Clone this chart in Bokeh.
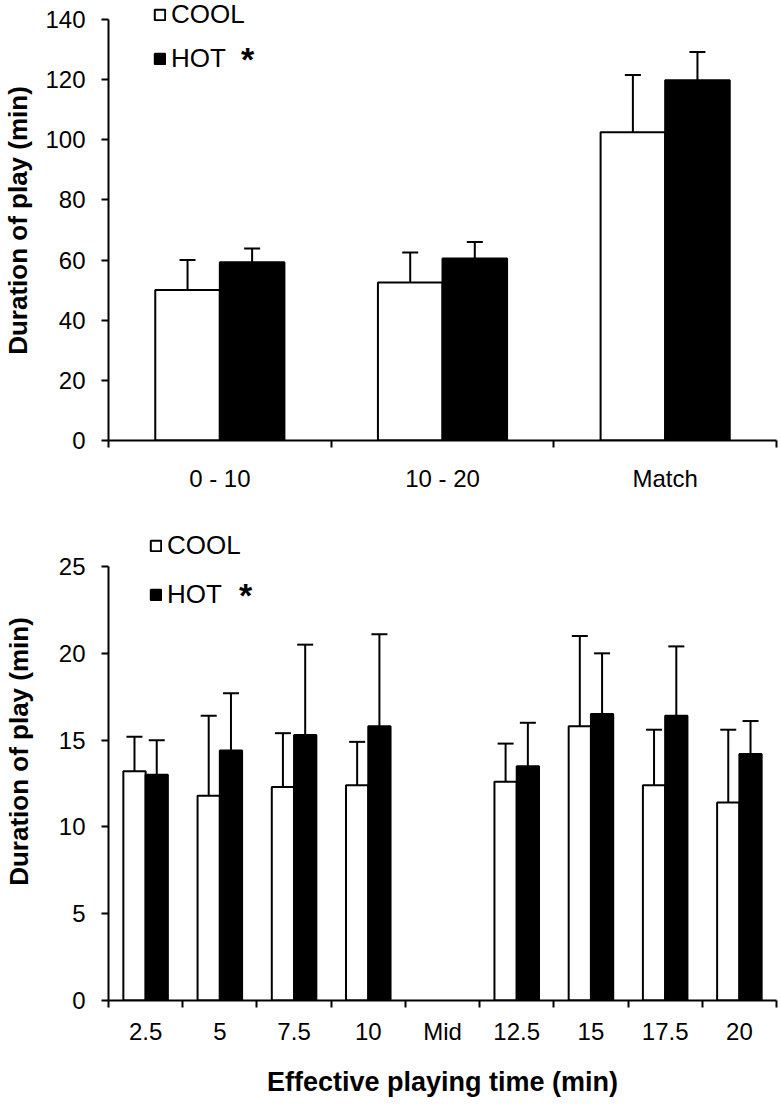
import numpy as np
from bokeh.plotting import figure
from bokeh.models import (Range1d, FixedTicker, Whisker, TeeHead, Legend, LegendItem,
                          Label, ColumnDataSource)
from bokeh.layouts import column
from bokeh.embed import file_html
from bokeh.resources import INLINE

# ---------------- data ----------------
top_categories = ["0 - 10", "10 - 20", "Match"]
top_cool = [50.0, 52.5, 102.5]
top_cool_sd = [10.0, 10.0, 19.0]
top_hot = [59.3, 60.5, 119.8]
top_hot_sd = [4.5, 5.5, 9.4]

bot_categories = ["2.5", "5", "7.5", "10", "Mid", "12.5", "15", "17.5", "20"]
bot_cool = [13.2, 11.8, 12.3, 12.4, None, 12.6, 15.8, 12.4, 11.4]
bot_cool_sd = [2.0, 4.6, 3.1, 2.5, None, 2.2, 5.2, 3.2, 4.2]
bot_hot = [13.0, 14.4, 15.3, 15.8, None, 13.5, 16.5, 16.4, 14.2]
bot_hot_sd = [2.0, 3.3, 5.2, 5.3, None, 2.5, 3.5, 4.0, 1.9]

series_names = ["COOL", "HOT"]
y_label = "Duration of play (min)"
x_label = "Effective playing time (min)"

FONT = "Liberation Sans"
TICK_FS = "24px"
AXL_FS = "26px"


def make_source(vals, sds, offset):
    xs, tops, ups = [], [], []
    for i, (v, s) in enumerate(zip(vals, sds)):
        if v is None:
            continue
        xs.append(i + 0.5 + offset)
        tops.append(v)
        ups.append(v + s)
    return ColumnDataSource(dict(x=xs, top=tops, upper=ups))


def build(categories, cool, cool_sd, hot, hot_sd, y_end, y_max, y_step,
          height, bw, min_border_bottom, label_standoff_y, x_std, xlab_std,
          legend_loc, legend_spacing, star_xy, with_xlabel):
    n = len(categories)
    p = figure(width=780, height=height, output_backend="svg", toolbar_location=None,
               x_range=Range1d(0, n), y_range=Range1d(0, y_end),
               min_border_left=108, min_border_right=4, min_border_top=0,
               min_border_bottom=min_border_bottom)
    p.outline_line_color = None
    p.xgrid.visible = False
    p.ygrid.visible = False
    p.background_fill_color = "white"
    p.border_fill_color = "white"

    src_c = make_source(cool, cool_sd, -bw / 2)
    src_h = make_source(hot, hot_sd, bw / 2)
    r_c = p.vbar(x="x", top="top", width=bw, source=src_c, fill_color="white",
                 line_color="black", line_width=2)
    r_h = p.vbar(x="x", top="top", width=bw, source=src_h, fill_color="black",
                 line_color="black", line_width=2)
    for src in (src_c, src_h):
        w = Whisker(source=src, base="x", lower="top", upper="upper", dimension="height",
                    line_width=2, line_color="black",
                    upper_head=TeeHead(size=16, line_width=2, line_color="black"),
                    lower_head=None)
        p.add_layout(w)

    # x axis: labels at centres, ticks at boundaries
    xa = p.xaxis[0]
    centres = [i + 0.5 for i in range(n)]
    xa.ticker = FixedTicker(ticks=centres, minor_ticks=list(range(n + 1)))
    xa.major_label_overrides = {c: lab for c, lab in zip(centres, categories)}
    xa.major_tick_out = 0
    xa.major_tick_in = 0
    xa.minor_tick_out = 7
    xa.minor_tick_in = 0
    xa.minor_tick_line_width = 2
    xa.minor_tick_line_color = "black"
    xa.axis_line_width = 2
    xa.axis_line_color = "black"
    xa.major_label_text_font = FONT
    xa.major_label_text_font_size = TICK_FS
    xa.major_label_text_color = "black"
    xa.major_label_standoff = x_std
    if with_xlabel:
        xa.axis_label = x_label
        xa.axis_label_text_font = FONT
        xa.axis_label_text_font_style = "bold"
        xa.axis_label_text_font_size = "27px"
        xa.axis_label_text_color = "black"
        xa.axis_label_standoff = xlab_std

    ya = p.yaxis[0]
    ya.ticker = FixedTicker(ticks=list(np.arange(0, y_max + 0.1, y_step)))
    ya.bounds = (0, y_max)
    ya.major_tick_out = 7
    ya.major_tick_in = 0
    ya.major_tick_line_width = 2
    ya.minor_tick_line_color = None
    ya.axis_line_width = 2
    ya.axis_line_color = "black"
    ya.major_label_text_font = FONT
    ya.major_label_text_font_size = TICK_FS
    ya.major_label_text_color = "black"
    ya.major_label_standoff = 16
    ya.axis_label = y_label
    ya.axis_label_text_font = FONT
    ya.axis_label_text_font_style = "bold"
    ya.axis_label_text_font_size = AXL_FS
    ya.axis_label_text_color = "black"
    ya.axis_label_standoff = label_standoff_y

    legend = Legend(items=[LegendItem(label=series_names[0], renderers=[r_c]),
                           LegendItem(label=series_names[1], renderers=[r_h])],
                    location=legend_loc, orientation="vertical",
                    border_line_color=None, background_fill_alpha=0,
                    label_text_font=FONT, label_text_font_size="26px",
                    label_text_color="black",
                    glyph_width=13, glyph_height=13, label_standoff=5,
                    spacing=legend_spacing, padding=0, margin=0)
    p.add_layout(legend)
    p.add_layout(Label(x=star_xy[0], y=star_xy[1], x_units="screen", y_units="screen",
                       text="*", text_font=FONT, text_font_size="34px",
                       text_font_style="bold",
                       text_align="center", text_baseline="alphabetic",
                       text_color="black"))
    return p


p1 = build(top_categories, top_cool, top_cool_sd, top_hot, top_hot_sd,
           y_end=146.3, y_max=140, y_step=20, height=502, bw=0.29,
           min_border_bottom=62, label_standoff_y=9, x_std=17, xlab_std=0,
           legend_loc=(45, 366), legend_spacing=13, star_xy=(139, 382),
           with_xlabel=False)

p2 = build(bot_categories, bot_cool, bot_cool_sd, bot_hot, bot_hot_sd,
           y_end=28.69, y_max=25, y_step=5, height=603, bw=0.30,
           min_border_bottom=105, label_standoff_y=22, x_std=10, xlab_std=19,
           legend_loc=(41, 390), legend_spacing=18, star_xy=(137, 406),
           with_xlabel=True)

layout = column(p1, p2, spacing=0)
open("out.html", "w").write(file_html(layout, INLINE))
